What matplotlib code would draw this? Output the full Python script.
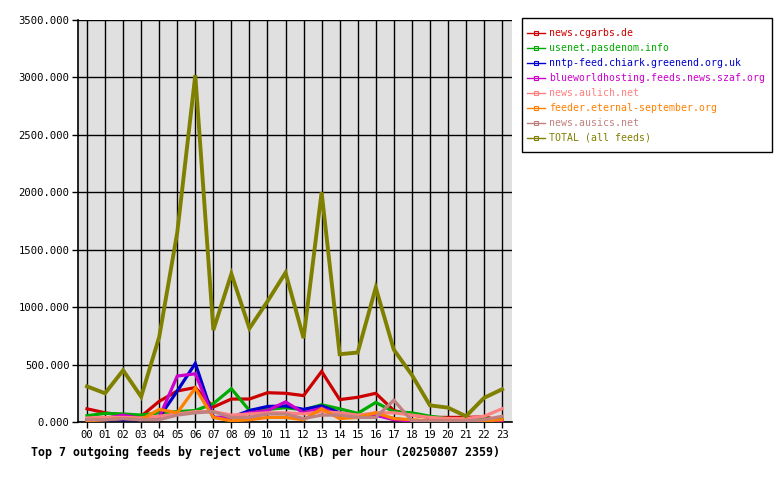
import matplotlib
matplotlib.use("Agg")
import matplotlib.pyplot as plt
from matplotlib.lines import Line2D
from matplotlib.patches import Rectangle

hours = ["%02d" % h for h in range(24)]
feeds = ["news.cgarbs.de", "usenet.pasdenom.info", "nntp-feed.chiark.greenend.org.uk",
         "blueworldhosting.feeds.news.szaf.org", "news.aulich.net",
         "feeder.eternal-september.org", "news.ausics.net", "TOTAL (all feeds)"]
colors = ["#cc0000", "#00aa00", "#0000cc", "#cc00cc", "#ff8080", "#ff8000", "#c08080", "#808000"]

cgarbs = [115, 80, 60, 50, 180, 270, 300, 130, 200, 200, 255, 250, 230, 440, 195, 215, 250, 100, 60, 40, 40, 40, 45, 10]
pasdenom = [55, 75, 70, 60, 80, 90, 100, 160, 290, 100, 110, 125, 105, 150, 115, 75, 170, 90, 80, 50, 30, 30, 30, 20]
chiark = [20, 20, 20, 20, 40, 270, 510, 40, 40, 100, 135, 140, 110, 140, 80, 50, 60, 30, 10, 10, 10, 10, 10, 10]
szaf = [20, 30, 60, 30, 40, 400, 420, 40, 40, 80, 100, 175, 80, 120, 60, 40, 60, 20, 10, 10, 10, 10, 10, 10]
aulich = [35, 40, 40, 35, 50, 70, 90, 90, 60, 70, 80, 80, 70, 90, 80, 60, 80, 80, 60, 40, 30, 30, 50, 115]
eternal = [10, 20, 30, 20, 110, 80, 295, 40, 10, 20, 40, 40, 20, 115, 30, 40, 80, 30, 20, 10, 10, 5, 10, 20]
ausics = [20, 20, 30, 20, 20, 60, 80, 90, 40, 40, 70, 70, 30, 60, 60, 40, 40, 190, 10, 10, 10, 10, 20, 50]
total = [310, 250, 450, 220, 740, 1650, 3020, 800, 1290, 815, 1050, 1300, 730, 2000, 590, 605, 1170, 630, 410, 145, 125, 50, 210, 285]

series = [cgarbs, pasdenom, chiark, szaf, aulich, eternal, ausics, total]
yticks = [0, 500, 1000, 1500, 2000, 2500, 3000, 3500]

W, H = 780, 480
mono = "DejaVu Sans Mono"
fig = plt.figure(figsize=(7.8, 4.8), dpi=100)
ax = fig.add_axes([78/W, 1-422/H, (512-78)/W, (422-20)/H])
ax.set_facecolor("#e0e0e0")
x = list(range(24))
for vals, c, name in zip(series, colors, feeds):
    lw = 2.8 if name.startswith("TOTAL") else 2.3
    ax.plot(x, vals, color=c, lw=lw, solid_joinstyle="miter", zorder=3)

ax.set_xlim(-0.5, 23.55)
ax.set_ylim(0, 3500)
ax.set_xticks(x)
ax.set_xticklabels(hours, family=mono, fontsize=7.6)
ax.set_yticks(yticks)
ax.set_yticklabels(["%.3f" % v for v in yticks], family=mono, fontsize=7.6)
ax.grid(True, color="black", lw=1.0, zorder=1)
ax.set_axisbelow(True)
for s in ["top", "right"]:
    ax.spines[s].set_visible(False)
for s in ["left", "bottom"]:
    ax.spines[s].set_linewidth(1.2)
ax.tick_params(axis="both", length=4, width=1, color="black", pad=2)

fig.text(31/W, 1-452/H, "Top 7 outgoing feeds by reject volume (KB) per hour (20250807 2359)",
         family=mono, fontsize=8.4, fontweight="bold", ha="left", va="center")

# legend box drawn in figure pixel layout
fig.patches.append(Rectangle((522/W, 1-152/H), (772-522)/W, (152-18)/H,
                             transform=fig.transFigure, fill=False,
                             edgecolor="black", lw=1.0))
for i, (name, c) in enumerate(zip(feeds, colors)):
    yy = 1 - (33 + 15*i)/H
    fig.add_artist(Line2D([527/W, 545/W], [yy, yy], color=c, lw=1.0,
                          transform=fig.transFigure))
    fig.add_artist(Line2D([536/W], [yy], marker="s", markersize=2.5,
                          markerfacecolor="none", markeredgecolor=c,
                          markeredgewidth=0.8, transform=fig.transFigure))
    fig.text(549/W, yy, name, color=c, family=mono, fontsize=7.1,
             ha="left", va="center")

fig.savefig("out.png", dpi=100, facecolor="white")
